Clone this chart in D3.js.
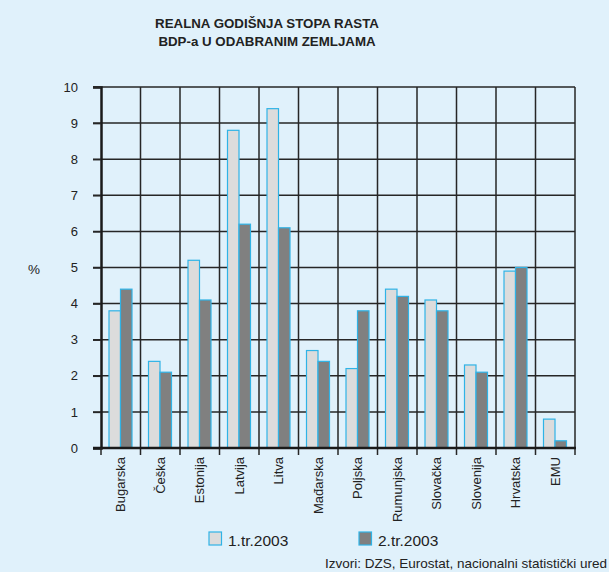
<!DOCTYPE html>
<html>
<head>
<meta charset="utf-8">
<script src="https://cdn.jsdelivr.net/npm/d3@7"></script>
<style>
  body { margin: 0; background: #e0f1fb; }
  svg { display: block; font-family: "Liberation Sans", Arial, sans-serif; }
</style>
</head>
<body>
<svg id="chart"></svg>
<script>
// data
const countries = ["Bugarska", "Češka", "Estonija", "Latvija", "Litva", "Mađarska",
    "Poljska", "Rumunjska", "Slovačka", "Slovenija", "Hrvatska", "EMU"];
const q1 = [3.8, 2.4, 5.2, 8.8, 9.4, 2.7, 2.2, 4.4, 4.1, 2.3, 4.9, 0.8];
const q2 = [4.4, 2.1, 4.1, 6.2, 6.1, 2.4, 3.8, 4.2, 3.8, 2.1, 5.0, 0.2];
const seriesNames = ["1.tr.2003", "2.tr.2003"];
const yTicks = [0, 1, 2, 3, 4, 5, 6, 7, 8, 9, 10];

const W = 609, H = 572;
const plotL = 101, plotR = 575, plotT = 87, plotB = 448;

const svg = d3.select("#chart").attr("width", W).attr("height", H);

svg.append("rect").attr("width", W).attr("height", H).attr("fill", "#e0f1fb");

// title
const title = svg.append("text")
    .attr("x", 267).attr("text-anchor", "middle")
    .style("font-weight", "bold").style("font-size", "13.3px").attr("fill", "#222");
title.append("tspan").attr("x", 267).attr("y", 28).text("REALNA GODIŠNJA STOPA RASTA");
title.append("tspan").attr("x", 267).attr("y", 46).text("BDP-a U ODABRANIM ZEMLJAMA");

const x = d3.scaleBand().domain(countries).range([plotL, plotR]);
const y = d3.scaleLinear().domain([0, 10]).range([plotB, plotT]);

const gridColor = "#262626";

// horizontal grid lines (extending left as tick marks)
svg.append("g").selectAll("line")
    .data(yTicks.filter(d => d > 0))
    .join("line")
    .attr("x1", plotL - 8).attr("x2", plotR)
    .attr("y1", d => y(d)).attr("y2", d => y(d))
    .attr("stroke", gridColor).attr("stroke-width", 1.5);

// vertical grid lines at category boundaries (extending below as tick marks)
const bounds = countries.map(c => x(c)).concat([plotR]);
svg.append("g").selectAll("line")
    .data(bounds.slice(1))
    .join("line")
    .attr("x1", d => d).attr("x2", d => d)
    .attr("y1", plotT).attr("y2", plotB + 7)
    .attr("stroke", gridColor).attr("stroke-width", 1.5);

// bars
const barW = 11.5;
const off = 8;
const groups = svg.append("g").selectAll("g")
    .data(countries)
    .join("g")
    .attr("transform", d => `translate(${x(d) + off},0)`);

groups.append("rect")
    .attr("x", 0).attr("width", barW)
    .attr("y", (d, i) => y(q1[i])).attr("height", (d, i) => y(0) - y(q1[i]))
    .attr("fill", "#dcdcdc").attr("stroke", "#2fb3e6").attr("stroke-width", 1.2);

groups.append("rect")
    .attr("x", barW).attr("width", barW)
    .attr("y", (d, i) => y(q2[i])).attr("height", (d, i) => y(0) - y(q2[i]))
    .attr("fill", "#808080").attr("stroke", "#2fb3e6").attr("stroke-width", 1.2);

// y axis
const yAxis = svg.append("g")
    .attr("transform", `translate(${plotL},0)`)
    .call(d3.axisLeft(y).tickValues(yTicks).tickSize(8).tickPadding(15));
yAxis.select(".domain").attr("stroke", "#1a1a1a").attr("stroke-width", 2.5);
yAxis.selectAll(".tick line").attr("stroke", gridColor).attr("stroke-width", 1.5);
yAxis.selectAll("text").style("font-size", "13px").attr("fill", "#222");

// x axis
const xAxis = svg.append("g")
    .attr("transform", `translate(0,${plotB})`)
    .call(d3.axisBottom(x).tickSize(0).tickPadding(0));
xAxis.select(".domain").remove();
xAxis.selectAll(".tick text")
    .attr("transform", "rotate(-90)")
    .attr("x", -9).attr("y", 0).attr("dy", "0.35em")
    .attr("text-anchor", "end")
    .style("font-size", "13px").attr("fill", "#222");

svg.append("line")
    .attr("x1", plotL - 8).attr("x2", plotR + 1)
    .attr("y1", plotB).attr("y2", plotB)
    .attr("stroke", "#1a1a1a").attr("stroke-width", 2.5);
svg.append("line")
    .attr("x1", plotL).attr("x2", plotL)
    .attr("y1", plotB).attr("y2", plotB + 7)
    .attr("stroke", gridColor).attr("stroke-width", 1.5);

// % label
svg.append("text").attr("x", 34).attr("y", 274).attr("text-anchor", "middle")
    .style("font-size", "13.5px").attr("fill", "#222").text("%");

// legend
const legend = svg.append("g").selectAll("g")
    .data(seriesNames)
    .join("g")
    .attr("transform", (d, i) => `translate(${209 + i * 150},532)`);
legend.append("rect")
    .attr("width", 12.5).attr("height", 13)
    .attr("fill", (d, i) => i === 0 ? "#dcdcdc" : "#808080")
    .attr("stroke", "#2fb3e6").attr("stroke-width", 1.2);
legend.append("text")
    .attr("x", 19).attr("y", 13.5)
    .style("font-size", "15.5px").attr("fill", "#222")
    .text(d => d);

// source
svg.append("text").attr("x", 607).attr("y", 568).attr("text-anchor", "end")
    .style("font-size", "13.5px").attr("fill", "#222")
    .text("Izvori: DZS, Eurostat, nacionalni statistički ured");
</script>
</body>
</html>
